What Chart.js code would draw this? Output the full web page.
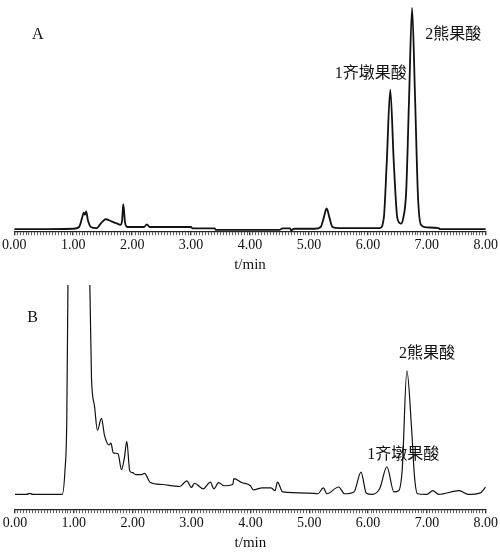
<!DOCTYPE html>
<html><head><meta charset="utf-8">
<script src="https://cdn.jsdelivr.net/npm/chart.js@4"></script>
<style>body{margin:0;background:#fff}#a,#b{position:absolute;left:0;width:500px;height:278px}#a{top:0}#b{top:278px}</style>
</head><body>
<div id="a"><canvas id="ca"></canvas></div><div id="b"><canvas id="cb"></canvas></div>
<script>
const timeA=[0,0.5,1.0,1.1,1.15,1.18,1.2,1.22,1.25,1.3,1.4,1.45,1.5,1.55,1.65,1.75,1.8,1.83,1.85,1.88,1.92,2.0,2.2,2.25,2.3,2.5,3.0,3.02,3.4,3.42,4.5,4.55,4.68,4.7,4.75,5.1,5.2,5.25,5.3,5.35,5.4,5.5,6.2,6.27,6.32,6.38,6.44,6.5,6.56,6.6,6.65,6.7,6.75,6.8,6.85,6.9,7.0,7.2,7.22,8.0];
const signalA=[0,0,0.2,1,5,7.5,6.5,8,4,1,0.5,2,3.5,4.5,3.5,2.5,2,4,11.3,3,1,1,1,2.2,1,1,1,0.4,0.4,-0.3,-0.3,0.4,0.4,-0.5,0.2,0.2,1,5,9.4,5,1,0.5,0.5,5,30,63,30,5,2.5,5,17,60,100,60,15,2,0.8,0.5,0,0];
const timeB=[0,0.2,0.25,0.3,0.8,0.85,0.88,0.9,0.95,1.05,1.15,1.27,1.3,1.35,1.4,1.47,1.52,1.6,1.63,1.67,1.75,1.81,1.86,1.9,1.95,2.0,2.05,2.15,2.2,2.3,2.5,2.8,2.92,3.0,3.05,3.2,3.32,3.38,3.46,3.55,3.7,3.72,3.85,4.0,4.05,4.2,4.35,4.42,4.46,4.55,5.0,5.15,5.24,5.3,5.5,5.6,5.76,5.88,5.97,6.07,6.2,6.32,6.44,6.52,6.58,6.66,6.74,6.79,6.84,7.0,7.1,7.2,7.55,7.7,7.9,8.0];
const signalB=[0,0,0.8,0,0,20,60,170,260,300,260,175,94,72,52,61.6,48,40,41.6,33.6,33,20,30,43,19,17.6,16,16,17,9.6,8,6.4,11,5.6,9,4.5,10,4.5,9.6,7,8,12.8,9.6,7,3.7,5.3,5.3,3,10,2,1,0.5,5.3,0.5,6,0.5,2,18,1,0,5,22.4,2,3,20,100,53,14,0.5,0,3,0,3,0,1,6];
const xTicks=[0,1,2,3,4,5,6,7,8];
const labelsA=[{t:"A",x:0.4,y:88},{t:"1齐墩果酸",x:6.05,y:70},{t:"2熊果酸",x:7.45,y:88}];
const labelsB=[{t:"B",x:0.3,y:143},{t:"2熊果酸",x:7.0,y:114},{t:"1齐墩果酸",x:6.6,y:32}];

const serif="'Liberation Serif','Times New Roman',serif";
const textPlugin={id:'txt',afterDatasetsDraw(c,args,opts){
  const ctx=c.ctx,xs=c.scales.x,ys=c.scales.y;ctx.save();ctx.fillStyle='#111';ctx.textAlign='center';ctx.textBaseline='middle';
  opts.items.forEach(l=>{ctx.font="16px "+serif+",'Noto Sans CJK SC'";ctx.fillText(l.t,xs.getPixelForValue(l.x),ys.getPixelForValue(l.y));});
  ctx.restore();}};
function make(id,tx,sy,ymin,ymax,lw,pad,labels){
  new Chart(document.getElementById(id),{type:'line',
  data:{datasets:[{data:tx.map((t,i)=>({x:t,y:sy[i]})),borderColor:'#111',borderWidth:lw,pointRadius:0,cubicInterpolationMode:'monotone',fill:false}]},
  options:{responsive:true,maintainAspectRatio:false,animation:false,events:[],
   layout:{padding:pad},
   plugins:{legend:{display:false},tooltip:{enabled:false},txt:{items:labels}},
   scales:{y:{display:false,min:ymin,max:ymax},
    x:{type:'linear',min:0,max:8,border:{color:'#222',width:1.2},
     grid:{drawOnChartArea:false,color:'#333',tickLength:4,lineWidth:c=>Math.abs(c.tick.value-Math.round(c.tick.value))<1e-6?1.4:0.8},
     afterBuildTicks:s=>{const a=[];for(let i=0;i<=160;i++)a.push({value:i*0.05});s.ticks=a;},
     ticks:{autoSkip:false,maxRotation:0,padding:2,color:'#111',font:{family:serif,size:14},
      callback:v=>{const r=Math.round(v);return Math.abs(v-r)<1e-6&&xTicks.includes(r)?r.toFixed(2):'';}},
     title:{display:true,text:'t/min',color:'#111',font:{family:serif,size:15},padding:{top:0,bottom:0}}}}},
  plugins:[textPlugin]});
}
make('ca',timeA,signalA,-0.9,101.3,1.8,{left:14,right:14,top:5,bottom:4},labelsA);
make('cb',timeB,signalB,-12,169.6,1.2,{left:15,right:10,top:7,bottom:4},labelsB);
</script></body></html>
